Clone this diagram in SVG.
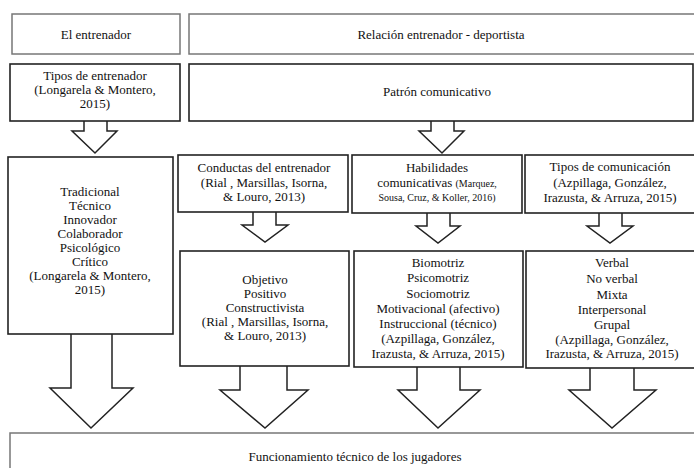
<svg xmlns="http://www.w3.org/2000/svg" width="694" height="468" viewBox="0 0 694 468">
<style>
  .hdr { fill: #fff; stroke: #777; stroke-width: 1.5; }
  .box { fill: #fff; stroke: #222; stroke-width: 1.6; }
  .arr { fill: #fff; stroke: #222; stroke-width: 1.5; stroke-linejoin: miter; }
  text { font-family: "Liberation Serif", "Times New Roman", serif; font-size: 13px; fill: #111; text-anchor: middle; }
  .sm { font-size: 10px; }
</style>
<rect width="694" height="468" fill="#fff"/>

<g id="connectors">
  <path class="arr" d="M84,121 V131 H72 L95,153 L117,131 H107 V121"/>
  <path class="arr" d="M431,121 V131 H419 L442,153 L464,131 H454 V121"/>
  <path class="arr" d="M71,334 V388 H50 L91,428 L133,388 H112 V334"/>
  <path class="arr" d="M253,212 V225 H242 L265,242 L288,225 H276 V212"/>
  <path class="arr" d="M240,366 V390 H220 L265,428 L308,390 H287 V366"/>
  <path class="arr" d="M427,213 V226 H416 L438,243 L460,226 H450 V213"/>
  <path class="arr" d="M417,367 V390 H398 L438,428 L480,390 H460 V367"/>
  <path class="arr" d="M599,213 V226 H587 L610,243 L633,226 H622 V213"/>
  <path class="arr" d="M590,368 V390 H569 L612,428 L656,390 H634 V368"/>
</g>

<g id="n-entrenador">
  <rect class="hdr" x="12" y="14" width="168" height="40"/>
  <text x="96" y="39">El entrenador</text>
</g>
<g id="n-relacion">
  <rect class="hdr" x="189" y="14" width="520" height="40"/>
  <text x="441" y="39">Relación entrenador - deportista</text>
</g>
<g id="n-tipos-entrenador">
  <rect class="box" x="10" y="64" width="170" height="57"/>
  <text x="95" y="80">Tipos de entrenador</text>
  <text x="95" y="94">(Longarela &amp; Montero,</text>
  <text x="95" y="108">2015)</text>
</g>
<g id="n-patron">
  <rect class="box" x="189" y="64" width="504" height="57"/>
  <text x="437" y="96">Patrón comunicativo</text>
</g>
<g id="n-tipos-lista">
  <rect class="box" x="8" y="157" width="165" height="177"/>
  <text x="90" y="196">Tradicional</text>
  <text x="90" y="210">Técnico</text>
  <text x="90" y="224">Innovador</text>
  <text x="90" y="238">Colaborador</text>
  <text x="90" y="252">Psicológico</text>
  <text x="90" y="266">Crítico</text>
  <text x="90" y="280">(Longarela &amp; Montero,</text>
  <text x="90" y="294">2015)</text>
</g>
<g id="n-conductas">
  <rect class="box" x="178" y="155" width="170" height="57"/>
  <text x="264" y="172">Conductas del entrenador</text>
  <text x="264" y="187">(Rial , Marsillas, Isorna,</text>
  <text x="264" y="201">&amp; Louro, 2013)</text>
</g>
<g id="n-habilidades">
  <rect class="box" x="352" y="155" width="170" height="58"/>
  <text x="437" y="172">Habilidades</text>
  <text x="437" y="187">comunicativas <tspan class="sm">(Marquez,</tspan></text>
  <text x="437" y="201" class="sm">Sousa, Cruz, &amp; Koller, 2016)</text>
</g>
<g id="n-tipos-comunicacion">
  <rect class="box" x="525" y="155" width="190" height="58"/>
  <text x="610" y="171">Tipos de comunicación</text>
  <text x="610" y="187">(Azpillaga, González,</text>
  <text x="610" y="202">Irazusta, &amp; Arruza, 2015)</text>
</g>
<g id="n-objetivo">
  <rect class="box" x="180" y="251" width="169" height="115"/>
  <text x="265" y="284">Objetivo</text>
  <text x="265" y="298">Positivo</text>
  <text x="265" y="312">Constructivista</text>
  <text x="265" y="326">(Rial , Marsillas, Isorna,</text>
  <text x="265" y="340">&amp; Louro, 2013)</text>
</g>
<g id="n-biomotriz">
  <rect class="box" x="354" y="251" width="169" height="116"/>
  <text x="438" y="267">Biomotriz</text>
  <text x="438" y="282">Psicomotriz</text>
  <text x="438" y="298">Sociomotriz</text>
  <text x="438" y="313">Motivacional (afectivo)</text>
  <text x="438" y="328">Instruccional (técnico)</text>
  <text x="438" y="343">(Azpillaga, González,</text>
  <text x="438" y="358">Irazusta, &amp; Arruza, 2015)</text>
</g>
<g id="n-verbal">
  <rect class="box" x="526" y="251" width="190" height="117"/>
  <text x="612" y="267">Verbal</text>
  <text x="612" y="283">No verbal</text>
  <text x="612" y="299">Mixta</text>
  <text x="612" y="314">Interpersonal</text>
  <text x="612" y="329">Grupal</text>
  <text x="612" y="344">(Azpillaga, González,</text>
  <text x="612" y="358">Irazusta, &amp; Arruza, 2015)</text>
</g>
<g id="n-funcionamiento">
  <rect class="hdr" x="10" y="433" width="700" height="50"/>
  <text x="355" y="461">Funcionamiento técnico de los jugadores</text>
</g>
</svg>
